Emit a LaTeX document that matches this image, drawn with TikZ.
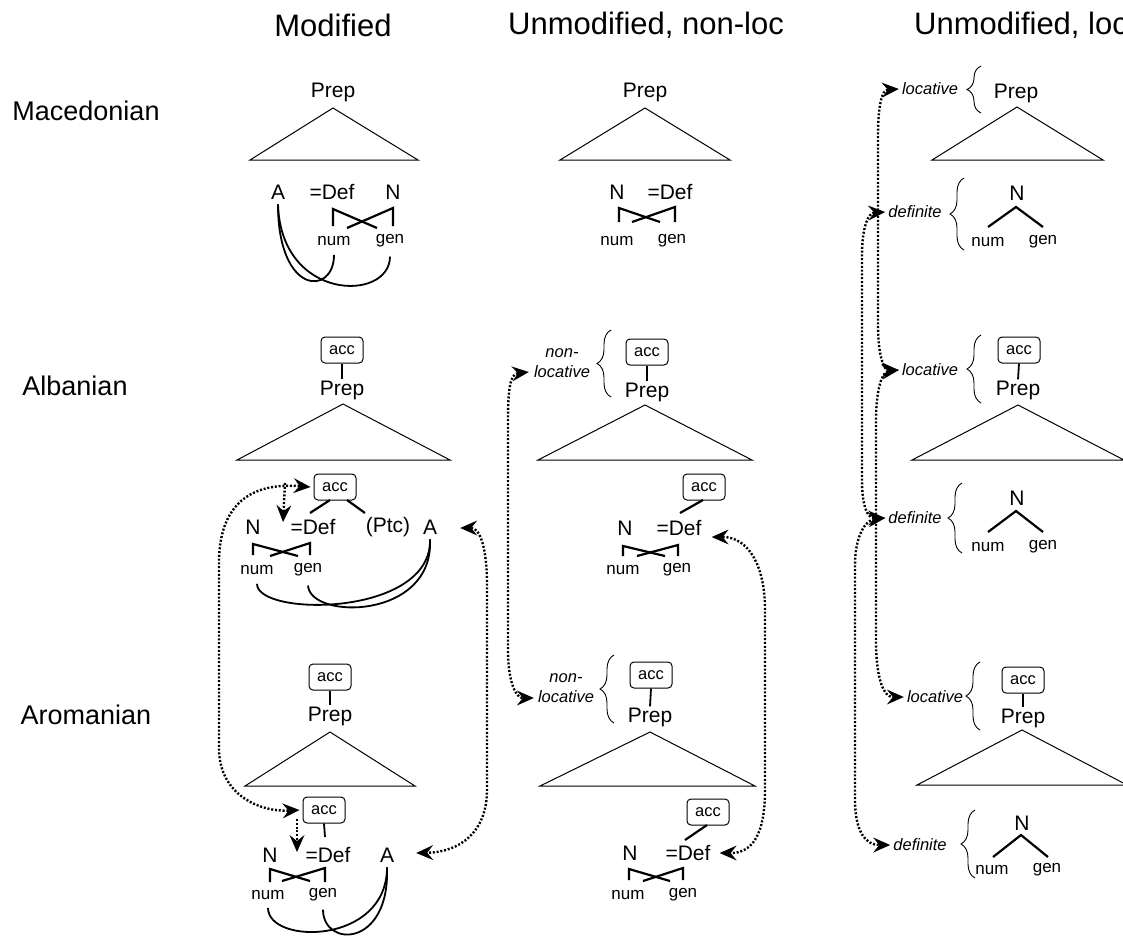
\documentclass[tikz,border=0pt]{standalone}
\usepackage{fontspec}
\setmainfont{Liberation Sans}
\usetikzlibrary{arrows.meta,decorations.pathreplacing,calc}
\begin{document}
\begin{tikzpicture}[x=1pt,y=-1pt,
  hdr/.style={font=\fontsize{31}{34}\selectfont, inner sep=0pt},
  lang/.style={font=\fontsize{27}{29}\selectfont, inner sep=0pt},
  cat/.style={font=\fontsize{21}{23}\selectfont, inner sep=1pt},
  feat/.style={font=\fontsize{17}{19}\selectfont, inner sep=1pt},
  accbox/.style={draw, rounded corners=4pt, line width=1pt, minimum width=42pt, minimum height=26pt, inner sep=0pt, font=\fontsize{16.5}{18}\selectfont},
  ctx/.style={font=\fontsize{16.5}{20}\itshape\selectfont, inner sep=1pt, align=center},
  tri/.style={line width=1pt, line join=miter},
  br/.style={line width=2.2pt},
  stem/.style={line width=1.8pt},
  agr/.style={line width=1.8pt},
  brc/.style={line width=0.9pt, decorate, decoration={brace, amplitude=14pt}},
  tipx/.tip={Stealth[length=17pt,width=15pt,inset=6pt,line width=0pt]},
  dots/.style={line width=2.4pt, dash pattern=on 2pt off 1.8pt, tipx-tipx},
  dot1/.style={line width=2.4pt, dash pattern=on 2pt off 1.8pt, -tipx}
]
\useasboundingbox (0,0) rectangle (1123,935);

% headers
\node[hdr] (h1) at (333,25) {Modified};
\node[hdr] (h2) at (646,25) {Unmodified, non-loc};
\node[hdr, anchor=west] (h3) at (914,25) {Unmodified, loc};
\node[lang] (l1) at (86,111) {Macedonian};
\node[lang] (l2) at (75,386) {Albanian};
\node[lang] (l3) at (86,715) {Aromanian};

% ================= Macedonian, modified
\node[cat] (mP1) at (333,92) {Prep};
\draw[tri] (333,108) -- (250,160) -- (418,160) -- cycle;
\node[cat] (mA) at (278,192) {A};
\node[cat] (mD) at (332,192) {=Def};
\node[cat] (mN) at (393,192) {N};
\node[feat] (mnum) at (334,241) {num};
\node[feat] (mgen) at (390,241) {gen};
\draw[br] (333,226) -- (333,209) -- (377,228);
\draw[br] (393,226) -- (393,208) -- (347,228);
\draw[agr] ($(mA.south)+(0,4)$) .. controls (278,296) and (334,296) .. ($(mnum.south)+(0,8)$);
\draw[agr] ($(mA.south)+(0,4)$) .. controls (281,302) and (390,302) .. ($(mgen.south)+(0,8)$);

% ================= Macedonian, unmodified non-loc
\node[cat] (mP2) at (645,92) {Prep};
\draw[tri] (645,108) -- (560,160) -- (730,160) -- cycle;
\node[cat] (mN2) at (617,192) {N};
\node[cat] (mD2) at (670,192) {=Def};
\node[feat] (mnum2) at (617,241) {num};
\node[feat] (mgen2) at (672,241) {gen};
\draw[br] (619,222) -- (619,208) -- (660,222);
\draw[br] (675,222) -- (675,207) -- (632,222);

% ================= Macedonian, unmodified loc
\node[ctx] (mLoc) at (930,89) {locative};
\draw[brc] (981,113) -- (981,66);
\node[cat] (mP3) at (1016,93) {Prep};
\draw[tri] (1017,107) -- (932,160) -- (1103,160) -- cycle;
\node[ctx] (mDefn) at (915,212) {definite};
\draw[brc] (964,250) -- (964,178);
\node[cat] (mN3) at (1017,193) {N};
\draw[br] (988,227) -- (1016,207) -- (1043,227);
\node[feat] (mnum3) at (988,242) {num};
\node[feat] (mgen3) at (1043,242) {gen};

% ================= Albanian, modified
\node[accbox] (aAcc) at (342,350) {acc};
\node[cat] (aP1) at (342,390) {Prep};
\draw[stem] (aAcc.south) -- (aP1.north);
\draw[tri] (343,404) -- (237,460) -- (450,460) -- cycle;
\node[accbox] (aAcc2) at (335,487) {acc};
\node[cat] (aN) at (253,527) {N};
\node[cat] (aD) at (313,527) {=Def};
\node[cat] (aPtc) at (388,527) {(Ptc)};
\node[cat] (aA) at (430,527) {A};
\draw[br] (330,500) -- (310,513);
\draw[br] (347,500) -- (365,513);
\draw[br] (253,555) -- (253,544) -- (298,556);
\draw[br] (310,555) -- (310,543) -- (270,556);
\node[feat] (anum) at (257,570) {num};
\node[feat] (agen) at (308,570) {gen};
\draw[agr] ($(anum.south)+(0,8)$) .. controls (257,617) and (432,617) .. ($(aA.south)+(0,4)$);
\draw[agr] ($(agen.south)+(0,8)$) .. controls (310,620) and (434,620) .. ($(aA.south)+(0,4)$);

% ================= Albanian, unmodified non-loc
\node[ctx] (aNl) at (562,363) {non-\\locative};
\draw[brc] (611,397) -- (611,330);
\node[accbox] (aAccB) at (647,352) {acc};
\node[cat] (aP2) at (647,392) {Prep};
\draw[stem] (aAccB.south) -- (aP2.north);
\draw[tri] (645,405) -- (538,460) -- (752,460) -- cycle;
\node[accbox] (aAccB2) at (704,487) {acc};
\node[cat] (aN2) at (625,528) {N};
\node[cat] (aD2) at (679,528) {=Def};
\draw[br] (703,500) -- (680,513);
\draw[br] (623,556) -- (623,546) -- (665,556);
\draw[br] (678,556) -- (678,545) -- (637,556);
\node[feat] (anum2) at (623,570) {num};
\node[feat] (agen2) at (677,570) {gen};

% ================= Albanian, unmodified loc
\node[ctx] (aLoc) at (930,370) {locative};
\draw[brc] (981,403) -- (981,335);
\node[accbox] (aAccC) at (1019,350) {acc};
\node[cat] (aP3) at (1018,390) {Prep};
\draw[stem] (aAccC.south) -- (aP3.north);
\draw[tri] (1018,405) -- (912,460) -- (1124,460) -- cycle;
\node[ctx] (aDefn) at (915,518) {definite};
\draw[brc] (962,553) -- (962,483);
\node[cat] (aN3) at (1017,498) {N};
\draw[br] (988,532) -- (1016,511) -- (1043,532);
\node[feat] (anum3) at (988,547) {num};
\node[feat] (agen3) at (1043,547) {gen};

% ================= Aromanian, modified
\node[accbox] (rAcc) at (330,677) {acc};
\node[cat] (rP1) at (330,716) {Prep};
\draw[stem] (rAcc.south) -- (rP1.north);
\draw[tri] (330,732) -- (245,786) -- (415,786) -- cycle;
\node[accbox] (rAcc2) at (324,810) {acc};
\node[cat] (rN) at (270,855) {N};
\node[cat] (rD) at (328,855) {=Def};
\node[cat] (rA) at (387,855) {A};
\draw[stem] (rAcc2.south) -- (325,837);
\draw[br] (270,882) -- (270,869) -- (310,881);
\draw[br] (325,882) -- (325,868) -- (282,881);
\node[feat] (rnum) at (268,895) {num};
\node[feat] (rgen) at (323,895) {gen};
\draw[agr] ($(rnum.south)+(0,7)$) .. controls (268,945) and (387,945) .. ($(rA.south)+(0,4)$);
\draw[agr] ($(rgen.south)+(0,7)$) .. controls (323,948) and (390,948) .. ($(rA.south)+(0,4)$);

% ================= Aromanian, unmodified non-loc
\node[ctx] (rNl) at (566,688) {non-\\locative};
\draw[brc] (614,723) -- (614,655);
\node[accbox] (rAccB) at (651,675) {acc};
\node[cat] (rP2) at (650,717) {Prep};
\draw[stem] (rAccB.south) -- (rP2.north);
\draw[tri] (650,732) -- (540,786) -- (755,786) -- cycle;
\node[accbox] (rAccB2) at (708,812) {acc};
\node[cat] (rN2) at (630,853) {N};
\node[cat] (rD2) at (688,853) {=Def};
\draw[br] (707,825) -- (685,840);
\draw[br] (629,880) -- (629,869) -- (670,881);
\draw[br] (683,880) -- (683,868) -- (643,881);
\node[feat] (rnum2) at (628,895) {num};
\node[feat] (rgen2) at (683,895) {gen};

% ================= Aromanian, unmodified loc
\node[ctx] (rLoc) at (935,697) {locative};
\draw[brc] (980,730) -- (980,662);
\node[accbox] (rAccC) at (1023,680) {acc};
\node[cat] (rP3) at (1023,718) {Prep};
\draw[stem] (rAccC.south) -- (rP3.north);
\draw[tri] (1022,730) -- (917,785) -- (1127,785) -- cycle;
\node[ctx] (rDefn) at (920,845) {definite};
\draw[brc] (975,878) -- (975,810);
\node[cat] (rN3) at (1022,823) {N};
\draw[br] (993,857) -- (1021,835) -- (1048,857);
\node[feat] (rnum3) at (992,870) {num};
\node[feat] (rgen3) at (1047,870) {gen};

% ================= dotted connectors
% left column
\draw[dots] ($(aAcc2.west)+(-3,0)$) .. controls (245,482) and (220,510) .. (219,560)
   -- (219,750) .. controls (220,795) and (260,812) .. ($(rAcc2.west)+(-3,0)$);
\coordinate (aSplit) at (285,483);
\coordinate (aGap) at (283,522);
\draw[dot1] (aSplit) -- (aGap);
\coordinate (rSplit) at (297,819);
\coordinate (rGap) at (297,852);
\draw[dot1] (rSplit) -- (rGap);
\draw[dots] ($(aA.east)+(22,1)$) .. controls (480,528) and (487,548) .. (487,585)
   -- (487,790) .. controls (487,832) and (460,852) .. ($(rA.east)+(21,-2)$);
% middle column
\draw[dots] ($(aNl.west)+(-4,9)$) .. controls (510,374) and (508,390) .. (508,420)
   -- (508,650) .. controls (508,685) and (517,698) .. ($(rNl.west)+(-3,10)$);
\draw[dots] ($(aD2.east)+(9,9)$) .. controls (748,537) and (765,565) .. (765,610)
   -- (765,790) .. controls (765,835) and (752,853) .. ($(rD2.east)+(8,0)$);
% right column
\draw[dots] ($(mLoc.west)+(-2,0)$) .. controls (882,90) and (878,105) .. (878,135)
   -- (878,325) .. controls (878,356) and (884,370) .. ($(aLoc.west)+(-2,0)$);
\draw[dots] ($(mDefn.west)+(-2,0)$) .. controls (868,213) and (862,228) .. (862,255)
   -- (862,480) .. controls (862,508) and (868,518) .. ($(aDefn.west)+(-2,0)$);
\draw[dots] ($(aLoc.west)+(-2,0)$) .. controls (882,372) and (876,390) .. (876,420)
   -- (876,640) .. controls (876,680) and (884,697) .. ($(rLoc.west)+(-2,0)$);
\draw[dots] ($(aDefn.west)+(-2,0)$) .. controls (866,520) and (855,535) .. (855,565)
   -- (855,800) .. controls (855,832) and (866,845) .. ($(rDefn.west)+(-2,0)$);
\end{tikzpicture}
\end{document}
